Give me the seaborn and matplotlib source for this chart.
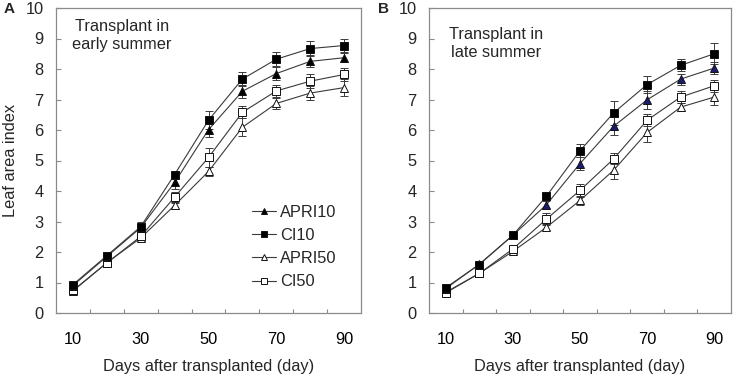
import matplotlib
matplotlib.use("Agg")
import matplotlib.pyplot as plt
from matplotlib.lines import Line2D
import seaborn as sns
import pandas as pd

# ---------------- data ----------------
days = [10, 20, 30, 40, 50, 60, 70, 80, 90]
series_names = ["APRI10", "CI10", "APRI50", "CI50"]

# Panel A: transplant in early summer
A_APRI10 = [0.90, 1.85, 2.80, 4.28, 6.01, 7.27, 7.85, 8.25, 8.37]
A_CI10 = [0.93, 1.88, 2.83, 4.54, 6.32, 7.67, 8.32, 8.67, 8.77]
A_APRI50 = [0.72, 1.65, 2.46, 3.53, 4.64, 6.09, 6.87, 7.21, 7.39]
A_CI50 = [0.74, 1.64, 2.51, 3.80, 5.10, 6.58, 7.28, 7.60, 7.82]
A_APRI10_err = [0.05, 0.08, 0.12, 0.20, 0.25, 0.22, 0.20, 0.20, 0.15]
A_CI10_err = [0.06, 0.08, 0.15, 0.12, 0.30, 0.22, 0.23, 0.25, 0.22]
A_APRI50_err = [0.05, 0.06, 0.10, 0.12, 0.15, 0.30, 0.18, 0.22, 0.27]
A_CI50_err = [0.05, 0.07, 0.10, 0.18, 0.30, 0.20, 0.20, 0.22, 0.20]

# Panel B: transplant in late summer
B_APRI10 = [0.80, 1.60, 2.55, 3.55, 4.90, 6.12, 6.99, 7.67, 8.03]
B_CI10 = [0.83, 1.59, 2.55, 3.83, 5.32, 6.56, 7.49, 8.12, 8.50]
B_APRI50 = [0.68, 1.30, 2.02, 2.81, 3.69, 4.68, 5.92, 6.75, 7.08]
B_CI50 = [0.66, 1.30, 2.10, 3.08, 4.02, 5.05, 6.32, 7.08, 7.45]
B_APRI10_err = [0.05, 0.06, 0.10, 0.12, 0.20, 0.30, 0.30, 0.18, 0.20]
B_CI10_err = [0.05, 0.06, 0.10, 0.12, 0.22, 0.38, 0.28, 0.20, 0.35]
B_APRI50_err = [0.04, 0.05, 0.08, 0.10, 0.15, 0.30, 0.30, 0.12, 0.25]
B_CI50_err = [0.04, 0.05, 0.08, 0.20, 0.22, 0.18, 0.20, 0.20, 0.20]

x_ticklabels = ["10", "30", "50", "70", "90"]
panel_labels = ["A", "B"]
panel_titles = ["Transplant in\nearly summer", "Transplant in\nlate summer"]
xlabel = "Days after transplanted (day)"
ylabel = "Leaf area index"

# ---------------- style ----------------
sns.set_style("white")
plt.rcParams["font.family"] = ["Liberation Sans", "DejaVu Sans"]
FS = 11.8
LINE = "#3a3a3a"
FRAME = "#8a8a8a"

W, H = 737, 379
fig = plt.figure(figsize=(W / 100, H / 100), dpi=100)


def px_axes(l, r, t, b):
    return fig.add_axes([l / W, 1 - b / H, (r - l) / W, (b - t) / H])


axA = px_axes(56, 361, 8, 313)
axB = px_axes(429, 731, 8, 313)

styles = {
    "APRI10": dict(marker="^", mfc="black"),
    "CI10": dict(marker="s", mfc="black"),
    "APRI50": dict(marker="^", mfc="white"),
    "CI50": dict(marker="s", mfc="white"),
}

panels = [
    (axA, {"APRI10": (A_APRI10, A_APRI10_err), "CI10": (A_CI10, A_CI10_err),
           "APRI50": (A_APRI50, A_APRI50_err), "CI50": (A_CI50, A_CI50_err)}, "black"),
    (axB, {"APRI10": (B_APRI10, B_APRI10_err), "CI10": (B_CI10, B_CI10_err),
           "APRI50": (B_APRI50, B_APRI50_err), "CI50": (B_CI50, B_CI50_err)}, "#1c1c6e"),
]

draw_order = ["APRI50", "CI50", "APRI10", "CI10"]

for i, (ax, data, apri10_fill) in enumerate(panels):
    for name in draw_order:
        vals, err = data[name]
        st = styles[name]
        mfc = st["mfc"]
        if name == "APRI10":
            mfc = apri10_fill
        df = pd.DataFrame({"day": days, "lai": vals})
        ax.errorbar(days, vals, yerr=err, fmt="none", ecolor=LINE,
                    elinewidth=0.7, capsize=2.6, capthick=0.7, zorder=2)
        sns.lineplot(data=df, x="day", y="lai", ax=ax, color=LINE,
                     linewidth=0.8, marker=st["marker"], markersize=5.4,
                     markerfacecolor=mfc, markeredgecolor="#111111",
                     markeredgewidth=0.7, errorbar=None, zorder=3)

    ax.set_xlim(5, 95)
    ax.set_ylim(0, 10)
    ax.set_xticks([10, 30, 50, 70, 90])
    ax.set_xticklabels(x_ticklabels)
    ax.set_xticks(list(range(15, 95, 10)), minor=True)
    ax.set_yticks(range(0, 11))
    ax.tick_params(axis="x", which="major", length=0, pad=13.5,
                   labelsize=FS, colors="black")
    ax.tick_params(axis="x", which="minor", direction="in", length=3,
                   width=0.8, color=FRAME, bottom=True)
    ax.tick_params(axis="y", which="major", direction="in", length=3.5,
                   width=0.8, color=FRAME, pad=9, labelsize=FS, left=True)
    for sp in ax.spines.values():
        sp.set_color(FRAME)
        sp.set_linewidth(0.9)
        sp.set_visible(True)
    ax.set_xlabel(xlabel, fontsize=FS, labelpad=9)
    ax.set_ylabel("")
    ax.grid(False)

axA.set_ylabel(ylabel, fontsize=FS, labelpad=5)

# panel letters
fig.text(9 / W, 1 - 9 / H, panel_labels[0], fontsize=11, fontweight="bold",
         ha="center", va="center")
fig.text(384 / W, 1 - 9 / H, panel_labels[1], fontsize=11, fontweight="bold",
         ha="center", va="center")

# in-panel titles
fig.text(122 / W, 1 - 35.5 / H, panel_titles[0], fontsize=FS, ha="center",
         va="center", multialignment="center", linespacing=1.3)
fig.text(496 / W, 1 - 43.5 / H, panel_titles[1], fontsize=FS, ha="center",
         va="center", multialignment="center", linespacing=1.3)

# legend in panel A
handles = []
for name in series_names:
    st = styles[name]
    handles.append(Line2D([0], [0], color=LINE, linewidth=0.8,
                          marker=st["marker"], markersize=4.3,
                          markerfacecolor=st["mfc"], markeredgecolor="#111111",
                          markeredgewidth=0.7))
leg = axA.legend(handles, series_names, loc="center",
                 bbox_to_anchor=(294 / W, 1 - 247 / H),
                 bbox_transform=fig.transFigure, frameon=False,
                 fontsize=FS, handlelength=1.45, handletextpad=0.25,
                 labelspacing=0.5, borderpad=0.2)

fig.savefig("out.png", dpi=100)
